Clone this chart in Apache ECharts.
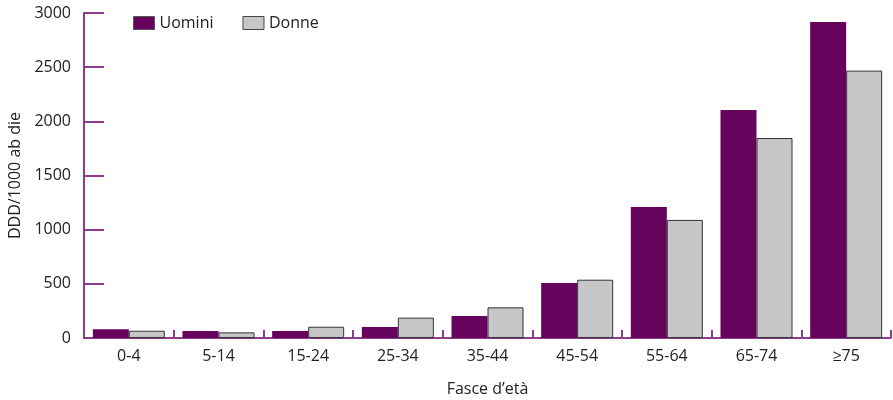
<!DOCTYPE html>
<html>
<head>
<meta charset="utf-8">
<script src="https://cdn.jsdelivr.net/npm/echarts@6/dist/echarts.min.js"></script>
<style>html,body{margin:0;padding:0;background:#fff}#c{width:893px;height:400px}</style>
</head>
<body>
<div id="c"></div>
<script>
const categories = ['0-4','5-14','15-24','25-34','35-44','45-54','55-64','65-74','\u226575'];
const uomini = [80, 65, 65, 101, 203, 508, 1210, 2105, 2917];
const donne = [67, 52, 104, 188, 283, 538, 1090, 1846, 2468];
const yTicks = { min: 0, max: 3000, interval: 500 };

const FONT = 'Open Sans';
const FS = 16;
const axisColor = '#8e3d8e';
const chart = echarts.init(document.getElementById('c'), null, { renderer: 'canvas' });
chart.setOption({
  animation: false,
  textStyle: { fontFamily: FONT },
  legend: {
    left: 128, top: 10,
    icon: 'rect',
    itemWidth: 21, itemHeight: 13, itemGap: 29,
    textStyle: { fontFamily: FONT, fontSize: FS, color: '#222' },
    data: [
      { name: 'Uomini', itemStyle: { borderColor: '#555', borderWidth: 1 } },
      { name: 'Donne', itemStyle: { borderColor: '#444', borderWidth: 1 } }
    ]
  },
  grid: { left: 84, right: 2, top: 13, bottom: 62, containLabel: false, outerBoundsMode: 'none' },
  xAxis: {
    type: 'category',
    data: categories,
    name: 'Fasce d\u2019et\u00e0',
    nameLocation: 'middle',
    nameGap: 43,
    nameTextStyle: { fontFamily: FONT, fontSize: FS, color: '#222' },
    axisLine: { lineStyle: { color: axisColor, width: 2 } },
    axisTick: { show: true, inside: true, length: 8, lineStyle: { color: axisColor, width: 2 } },
    axisLabel: { fontFamily: FONT, fontSize: FS, color: '#222', margin: 10 }
  },
  yAxis: {
    type: 'value',
    min: yTicks.min, max: yTicks.max, interval: yTicks.interval,
    name: 'DDD/1000 ab die',
    nameLocation: 'middle',
    nameGap: 61,
    nameTextStyle: { fontFamily: FONT, fontSize: FS, color: '#222' },
    axisLine: { show: true, lineStyle: { color: axisColor, width: 2 } },
    axisTick: { show: true, inside: true, length: 20, lineStyle: { color: axisColor, width: 2 } },
    axisLabel: { fontFamily: FONT, fontSize: FS, color: '#222', margin: 13, formatter: v => String(v) },
    splitLine: { show: false }
  },
  series: [
    {
      name: 'Uomini', type: 'bar', data: uomini,
      barWidth: 36, barGap: '0%',
      itemStyle: { color: '#66035c' }
    },
    {
      name: 'Donne', type: 'bar', data: donne,
      barWidth: 36,
      itemStyle: { color: '#c6c7c9', borderColor: '#333', borderWidth: 1 }
    }
  ]
});
</script>
</body>
</html>
